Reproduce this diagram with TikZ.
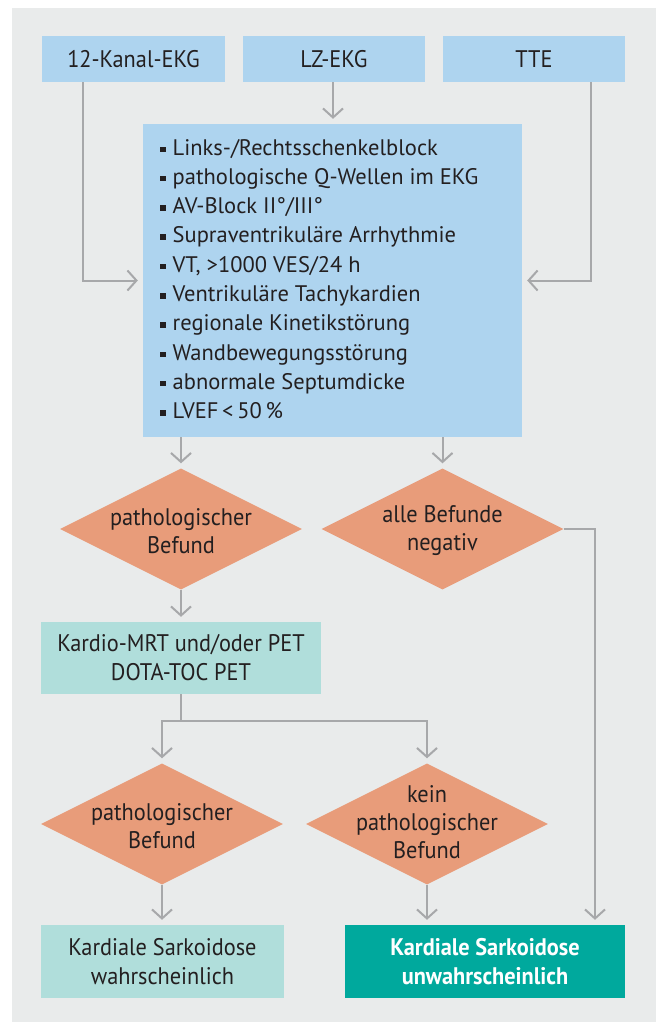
\documentclass[tikz,border=0pt]{standalone}
\usepackage{fontspec}
\setmainfont{PT Sans}
\newfontfamily\condfont{PT Sans}[FakeStretch=0.93]
\usetikzlibrary{arrows.meta,shapes.geometric,calc}
\definecolor{bggray}{HTML}{E9EBEB}
\definecolor{boxblue}{HTML}{AED4EF}
\definecolor{salmon}{HTML}{E89C7A}
\definecolor{lteal}{HTML}{B0DEDB}
\definecolor{dteal}{HTML}{00A99D}
\definecolor{argray}{HTML}{A7A8AA}
\definecolor{txt}{HTML}{231F20}
\tikzset{
  box/.style={rectangle, inner sep=0pt, text=txt, align=center,
    font=\condfont\fontsize{24}{29}\selectfont},
  dia/.style={diamond, fill=salmon, inner sep=0pt, minimum width=242pt, minimum height=121pt},
  diatext/.style={text=txt, align=center, inner sep=0pt, font=\condfont\fontsize{24}{28}\selectfont},
  listline/.style={anchor=base west, inner sep=0pt, text=txt, font=\fontsize{22.5}{26}\selectfont},
  arr/.style={draw=argray, line width=2pt, -{Straight Barb[length=9pt,width=20pt]}, shorten >=5pt},
  ln/.style={draw=argray, line width=2pt}
}
\newcommand{\sqbullet}{\raisebox{3pt}{\rule{5.5pt}{5.5pt}}\hspace{7pt}}
\begin{document}
\begin{tikzpicture}[x=1pt,y=-1pt]
\useasboundingbox (0,0) rectangle (657,1023);
\fill[bggray] (12,8) rectangle (656,1022);
% top boxes
\node[box, fill=boxblue, minimum width=183pt, minimum height=46pt] (ekg) at (133.5,59) {12-Kanal-EKG};
\node[box, fill=boxblue, minimum width=182pt, minimum height=46pt] (lz) at (334,59) {LZ-EKG};
\node[box, fill=boxblue, minimum width=182pt, minimum height=46pt] (tte) at (534,59) {TTE};
% findings box
\node[rectangle, fill=boxblue, minimum width=379pt, minimum height=313pt, inner sep=0pt] (bef) at (332.5,280.5) {};
\foreach \t [count=\i] in {Links-/Rechtsschenkelblock, pathologische Q-Wellen im EKG, AV-Block II°/III°, Supraventrikuläre Arrhythmie, {VT, >1000 VES/24 h}, Ventrikuläre Tachykardien, regionale Kinetikstörung, Wandbewegungsstörung, abnormale Septumdicke, LVEF\,<\,50\,\%}
  \node[listline] (l\i) at (160,{155+29.3*(\i-1)}) {\sqbullet\t};
% diamonds row 1
\node[dia] (d1) at (181,529) {};
\node[diatext] (d1t) at (181,531) {pathologischer\\Befund};
\node[dia] (d2) at (442.5,529) {};
\node[diatext] (d2t) at (442.5,531) {alle Befunde\\negativ};
% Kardio box
\node[box, fill=lteal, minimum width=280pt, minimum height=72pt] (mrt) at (181,658) {Kardio-MRT und/oder PET\\DOTA-TOC PET};
% diamonds row 2
\node[dia] (d3) at (162,824) {};
\node[diatext] (d3t) at (162,826) {pathologischer\\Befund};
\node[dia] (d4) at (427,824) {};
\node[diatext] (d4t) at (427,822) {kein\\pathologischer\\Befund};
% result boxes
\node[box, fill=lteal, minimum width=243pt, minimum height=73pt] (wahr) at (162.5,961.5) {Kardiale Sarkoidose\\wahrscheinlich};
\node[box, fill=dteal, text=white, minimum width=280pt, minimum height=73pt, font=\condfont\bfseries\fontsize{24}{29}\selectfont] (unw) at (485,961.5) {Kardiale Sarkoidose\\unwahrscheinlich};
% connectors
\draw[arr] ($(ekg.south west)+(41,0)$) |- (bef.west);
\draw[arr] ($(tte.south west)+(148,0)$) |- (bef.east);
\draw[arr] (lz.south -| 333,0) -- (bef.north -| 333,0);
\draw[arr] (bef.south -| d1.north) -- (d1.north);
\draw[arr] (bef.south -| d2.north) -- (d2.north);
\coordinate (rc) at (595,529);
\draw[arr] (d2.east) -| (unw.north -| rc);
\draw[arr] (d1.south) -- (mrt.north);
\coordinate (split) at (181,721);
\draw[ln] (mrt.south) -- (split);
\draw[arr] (split) -| (d3.north);
\draw[arr] (split) -| (d4.north);
\draw[arr] (d3.south) -- (wahr.north -| d3.south);
\draw[arr] (d4.south) -- (unw.north -| d4.south);
\end{tikzpicture}
\end{document}
